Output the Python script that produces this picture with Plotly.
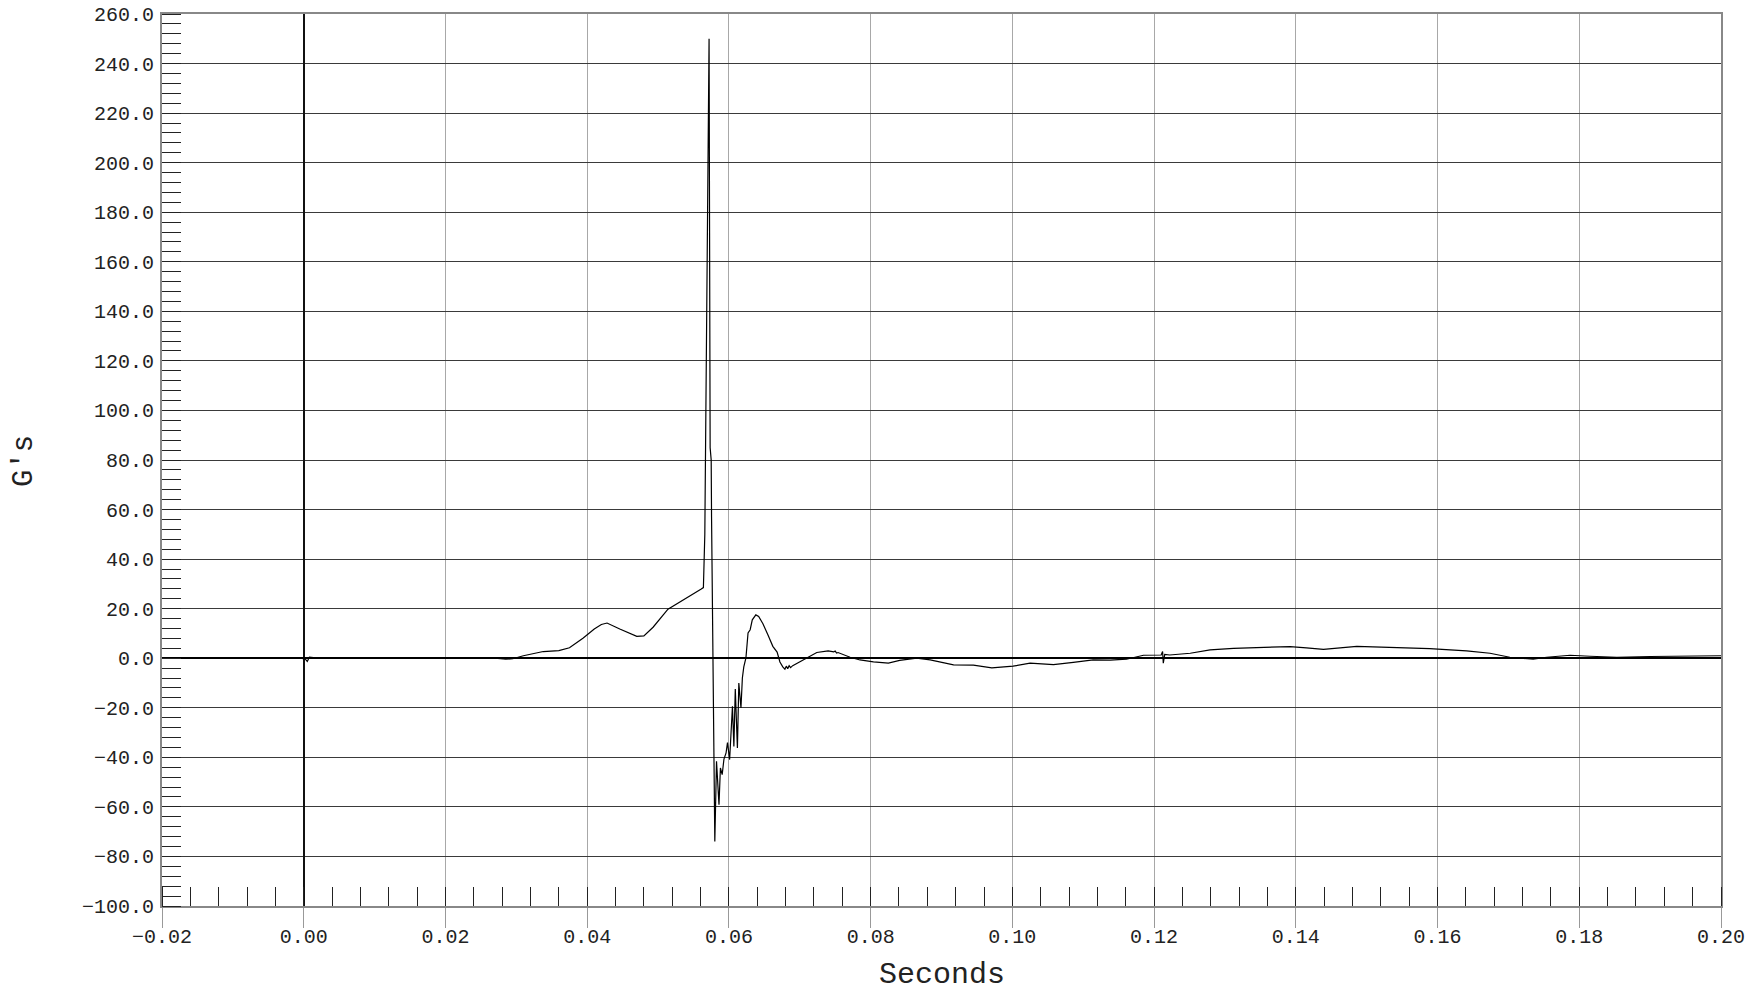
import plotly.graph_objects as go

# Time (seconds) and acceleration (G's)
time_s = [
    -0.02, -0.015, -0.01, -0.005, -0.0005, 0.0002, 0.0005, 0.0008, 0.0012, 0.002,
    0.005, 0.01, 0.015, 0.02, 0.024, 0.027, 0.0285, 0.0295, 0.031, 0.0325,
    0.0338, 0.036, 0.0375, 0.0394, 0.041, 0.042, 0.0428, 0.0446, 0.047, 0.048,
    0.0493, 0.0514, 0.0535, 0.0561, 0.0564, 0.0566, 0.0572, 0.05735, 0.0575, 0.05755,
    0.05801, 0.05825, 0.0586, 0.0588, 0.05905, 0.0593, 0.0596, 0.0598, 0.0601, 0.0605,
    0.0607, 0.0609, 0.0612, 0.0614, 0.0617, 0.0619, 0.0621, 0.0624, 0.0627, 0.0630,
    0.0633, 0.0638, 0.0642, 0.0648, 0.0655, 0.0662, 0.0668, 0.0672, 0.0676, 0.0679,
    0.0681, 0.0683, 0.0685, 0.0687, 0.0690, 0.0695, 0.0705, 0.0710, 0.0724, 0.0740,
    0.0748, 0.0750, 0.0752, 0.0754, 0.0771, 0.0785, 0.0804, 0.0825, 0.0841, 0.0865,
    0.0884, 0.0917, 0.0945, 0.0971, 0.1001, 0.1025, 0.1058, 0.1086, 0.1114, 0.1138,
    0.1161, 0.1185, 0.1204, 0.1210, 0.1212, 0.1213, 0.1215, 0.1222, 0.1251, 0.1279,
    0.1312, 0.1345, 0.1392, 0.1415, 0.1439, 0.1486, 0.1533, 0.1589, 0.1641, 0.1674,
    0.1702, 0.1735, 0.1754, 0.1787, 0.1815, 0.1853, 0.1900, 0.1950, 0.2000,
]
accel_g = [
    0.0, 0.0, 0.1, 0.0, 0.0, -0.3, -1.3, 0.4, 0.3, 0.0,
    0.1, 0.1, 0.2, 0.3, 0.1, 0.0, -0.4, -0.2, 1.0, 1.8,
    2.7, 3.1, 4.2, 8.1, 11.8, 13.6, 14.2, 11.8, 8.8, 9.0,
    12.5, 19.8, 23.3, 27.9, 28.5, 50.0, 250.0, 85.0, 80.0, 57.0,
    -74.0, -41.6, -59.1, -44.3, -47.0, -40.7, -38.2, -34.0, -40.9, -19.4,
    -35.6, -12.4, -36.2, -10.0, -20.1, -8.0, -3.5, 0.1, 10.2, 11.5,
    15.5, 17.5, 16.9, 13.9, 9.5, 4.8, 2.5, -1.5, -3.5, -4.4,
    -3.2, -4.2, -3.0, -3.8, -3.0, -2.2, -0.5, 0.3, 2.3, 3.0,
    2.6, 2.9, 2.1, 2.3, 0.4, -0.7, -1.5, -2.0, -0.9, 0.0,
    -0.7, -2.7, -2.8, -3.9, -3.2, -2.0, -2.6, -1.7, -0.7, -0.8,
    -0.4, 1.2, 1.3, 1.3, 2.7, -2.0, 1.5, 1.3, 2.0, 3.4,
    4.0, 4.4, 4.7, 4.2, 3.6, 4.8, 4.4, 3.9, 3.0, 2.0,
    0.4, -0.4, 0.4, 1.2, 0.8, 0.4, 0.7, 1.0, 1.0,
]

x_title = "Seconds"
y_title = "G's"
FONT = "Liberation Mono, Courier New, monospace"

fig = go.Figure()
fig.add_trace(go.Scatter(
    x=time_s, y=accel_g, mode="lines",
    line=dict(color="#000000", width=1.2),
    showlegend=False, hoverinfo="skip",
))

fig.update_layout(
    width=1752, height=993,
    margin=dict(l=162, r=31, t=14, b=87),
    paper_bgcolor="white", plot_bgcolor="white",
    font=dict(family=FONT, size=20, color="#222222"),
    xaxis=dict(
        range=[-0.02, 0.20], tick0=0, dtick=0.02, tickformat=".2f",
        automargin=False,
        ticks="outside", ticklen=20, tickcolor="#999999", tickwidth=1,
        ticklabelstandoff=-9,
        showgrid=True, gridcolor="#a8a8a8", gridwidth=1,
        zeroline=True, zerolinecolor="#111111", zerolinewidth=1.5,
        showline=True, linecolor="#888888", linewidth=2, mirror=True,
        tickfont=dict(family=FONT, size=20, color="#222222"),
        minor=dict(ticks="inside", ticklen=19, tickmode="linear", tick0=0, dtick=0.004,
                   tickcolor="#222222", tickwidth=1, showgrid=False),
    ),
    yaxis=dict(
        range=[-100, 260], tick0=0, dtick=20, tickformat=".1f",
        automargin=False,
        ticks="outside", ticklen=0, ticklabelstandoff=2,
        showgrid=True, gridcolor="#3a3a3a", gridwidth=1,
        zeroline=True, zerolinecolor="#000000", zerolinewidth=1.5,
        showline=True, linecolor="#888888", linewidth=2, mirror=True,
        tickfont=dict(family=FONT, size=20, color="#222222"),
        minor=dict(ticks="inside", ticklen=19, tickmode="linear", tick0=0, dtick=4,
                   tickcolor="#222222", tickwidth=1, showgrid=False),
    ),
    annotations=[
        dict(text=x_title, xref="paper", yref="paper", x=0.5, y=-0.0770,
             xanchor="center", yanchor="middle", showarrow=False,
             font=dict(family=FONT, size=30, color="#222222")),
        dict(text=y_title, xref="paper", yref="paper", x=-0.0878, y=0.499,
             xanchor="center", yanchor="middle", showarrow=False, textangle=-90,
             font=dict(family=FONT, size=29, color="#222222")),
    ],
)

pin_to_corner = (
    "document.body.style.margin='0';"
    "var d=document.getElementById('{plot_id}');"
    "d.style.position='absolute';d.style.left='0px';d.style.top='0px';"
)

fig.write_html("out.html", post_script=pin_to_corner,
               config={"displayModeBar": False})
